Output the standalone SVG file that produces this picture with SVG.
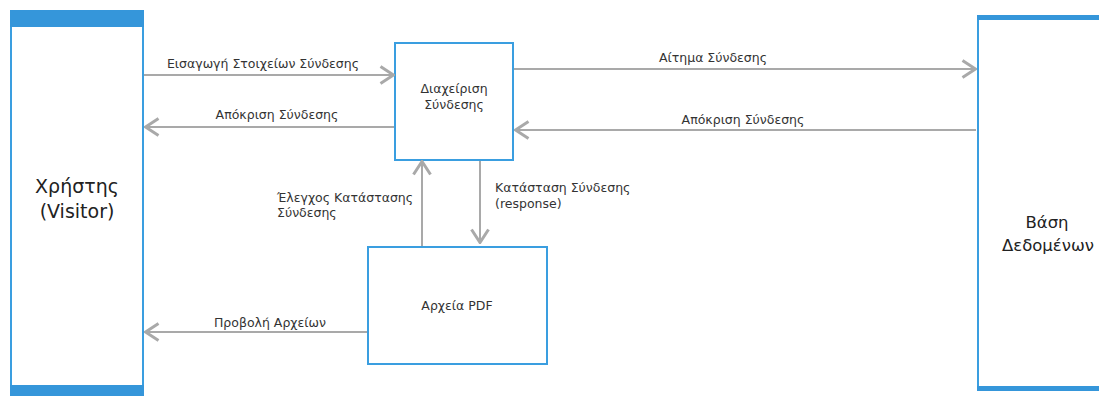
<svg xmlns="http://www.w3.org/2000/svg" width="1099" height="396" viewBox="0 0 1099 396">
<style>
.box{fill:#fff;stroke:#3a9ee0;stroke-width:2}
.band{fill:#3596da}
.lbl{font-family:"DejaVu Sans","Noto Sans",sans-serif;font-size:12.5px;fill:#333}
.big{font-family:"DejaVu Sans",sans-serif;font-size:19px;fill:#222}
.mid{font-family:"DejaVu Sans",sans-serif;font-size:16.5px;fill:#222}
.con{stroke:#a9a9a9;stroke-width:2;fill:none;marker-end:url(#ah)}
</style>
<defs>
<marker id="ah" viewBox="0 0 16 20" refX="15" refY="10" markerWidth="16" markerHeight="20" markerUnits="userSpaceOnUse" orient="auto">
<path d="M1.5,1.5 L14.5,10 L1.5,18.5" fill="none" stroke="#a9a9a9" stroke-width="3"/>
</marker>
</defs>
<rect width="1099" height="396" fill="#fff"/>
<g id="visitor">
<rect class="box" x="11" y="11" width="132" height="383"/>
<rect class="band" x="10" y="10" width="134" height="17"/>
<rect class="band" x="10" y="385" width="134" height="11"/>
<text class="big" x="77" y="193" text-anchor="middle">Χρήστης</text>
<text class="big" x="77" y="218" text-anchor="middle">(Visitor)</text>
</g>
<g id="login">
<rect class="box" x="395" y="43" width="118" height="117"/>
<text class="lbl" x="454" y="93" text-anchor="middle">Διαχείριση</text>
<text class="lbl" x="454" y="109" text-anchor="middle">Σύνδεσης</text>
</g>
<g id="pdf">
<rect class="box" x="368" y="247" width="179" height="117"/>
<text class="lbl" x="457" y="310" text-anchor="middle">Αρχεία PDF</text>
</g>
<g id="db">
<rect class="box" x="978" y="17" width="130" height="372"/>
<rect class="band" x="977" y="15" width="122" height="5"/>
<rect class="band" x="977" y="386" width="122" height="5"/>
<text class="mid" x="1047" y="228" text-anchor="middle">Βάση</text>
<text class="mid" x="1048" y="251" text-anchor="middle">Δεδομένων</text>
</g>
<g id="connectors">
<line class="con" x1="144" y1="75" x2="394" y2="75"/>
<line class="con" x1="394" y1="127" x2="145" y2="127"/>
<line class="con" x1="514" y1="69" x2="976" y2="69"/>
<line class="con" x1="976" y1="130" x2="515" y2="130"/>
<line class="con" x1="422" y1="246" x2="422" y2="161"/>
<line class="con" x1="480" y1="161" x2="480" y2="243"/>
<line class="con" x1="367" y1="332" x2="145" y2="332"/>
<text class="lbl" x="263" y="68" text-anchor="middle">Εισαγωγή Στοιχείων Σύνδεσης</text>
<text class="lbl" x="277" y="119" text-anchor="middle">Απόκριση Σύνδεσης</text>
<text class="lbl" x="713" y="62" text-anchor="middle">Αίτημα Σύνδεσης</text>
<text class="lbl" x="743" y="124" text-anchor="middle">Απόκριση Σύνδεσης</text>
<text class="lbl" x="277" y="202">Έλεγχος Κατάστασης</text>
<text class="lbl" x="277" y="217">Σύνδεσης</text>
<text class="lbl" x="495" y="192">Κατάσταση Σύνδεσης</text>
<text class="lbl" x="495" y="208">(response)</text>
<text class="lbl" x="270" y="327" text-anchor="middle">Προβολή Αρχείων</text>
</g>
</svg>
